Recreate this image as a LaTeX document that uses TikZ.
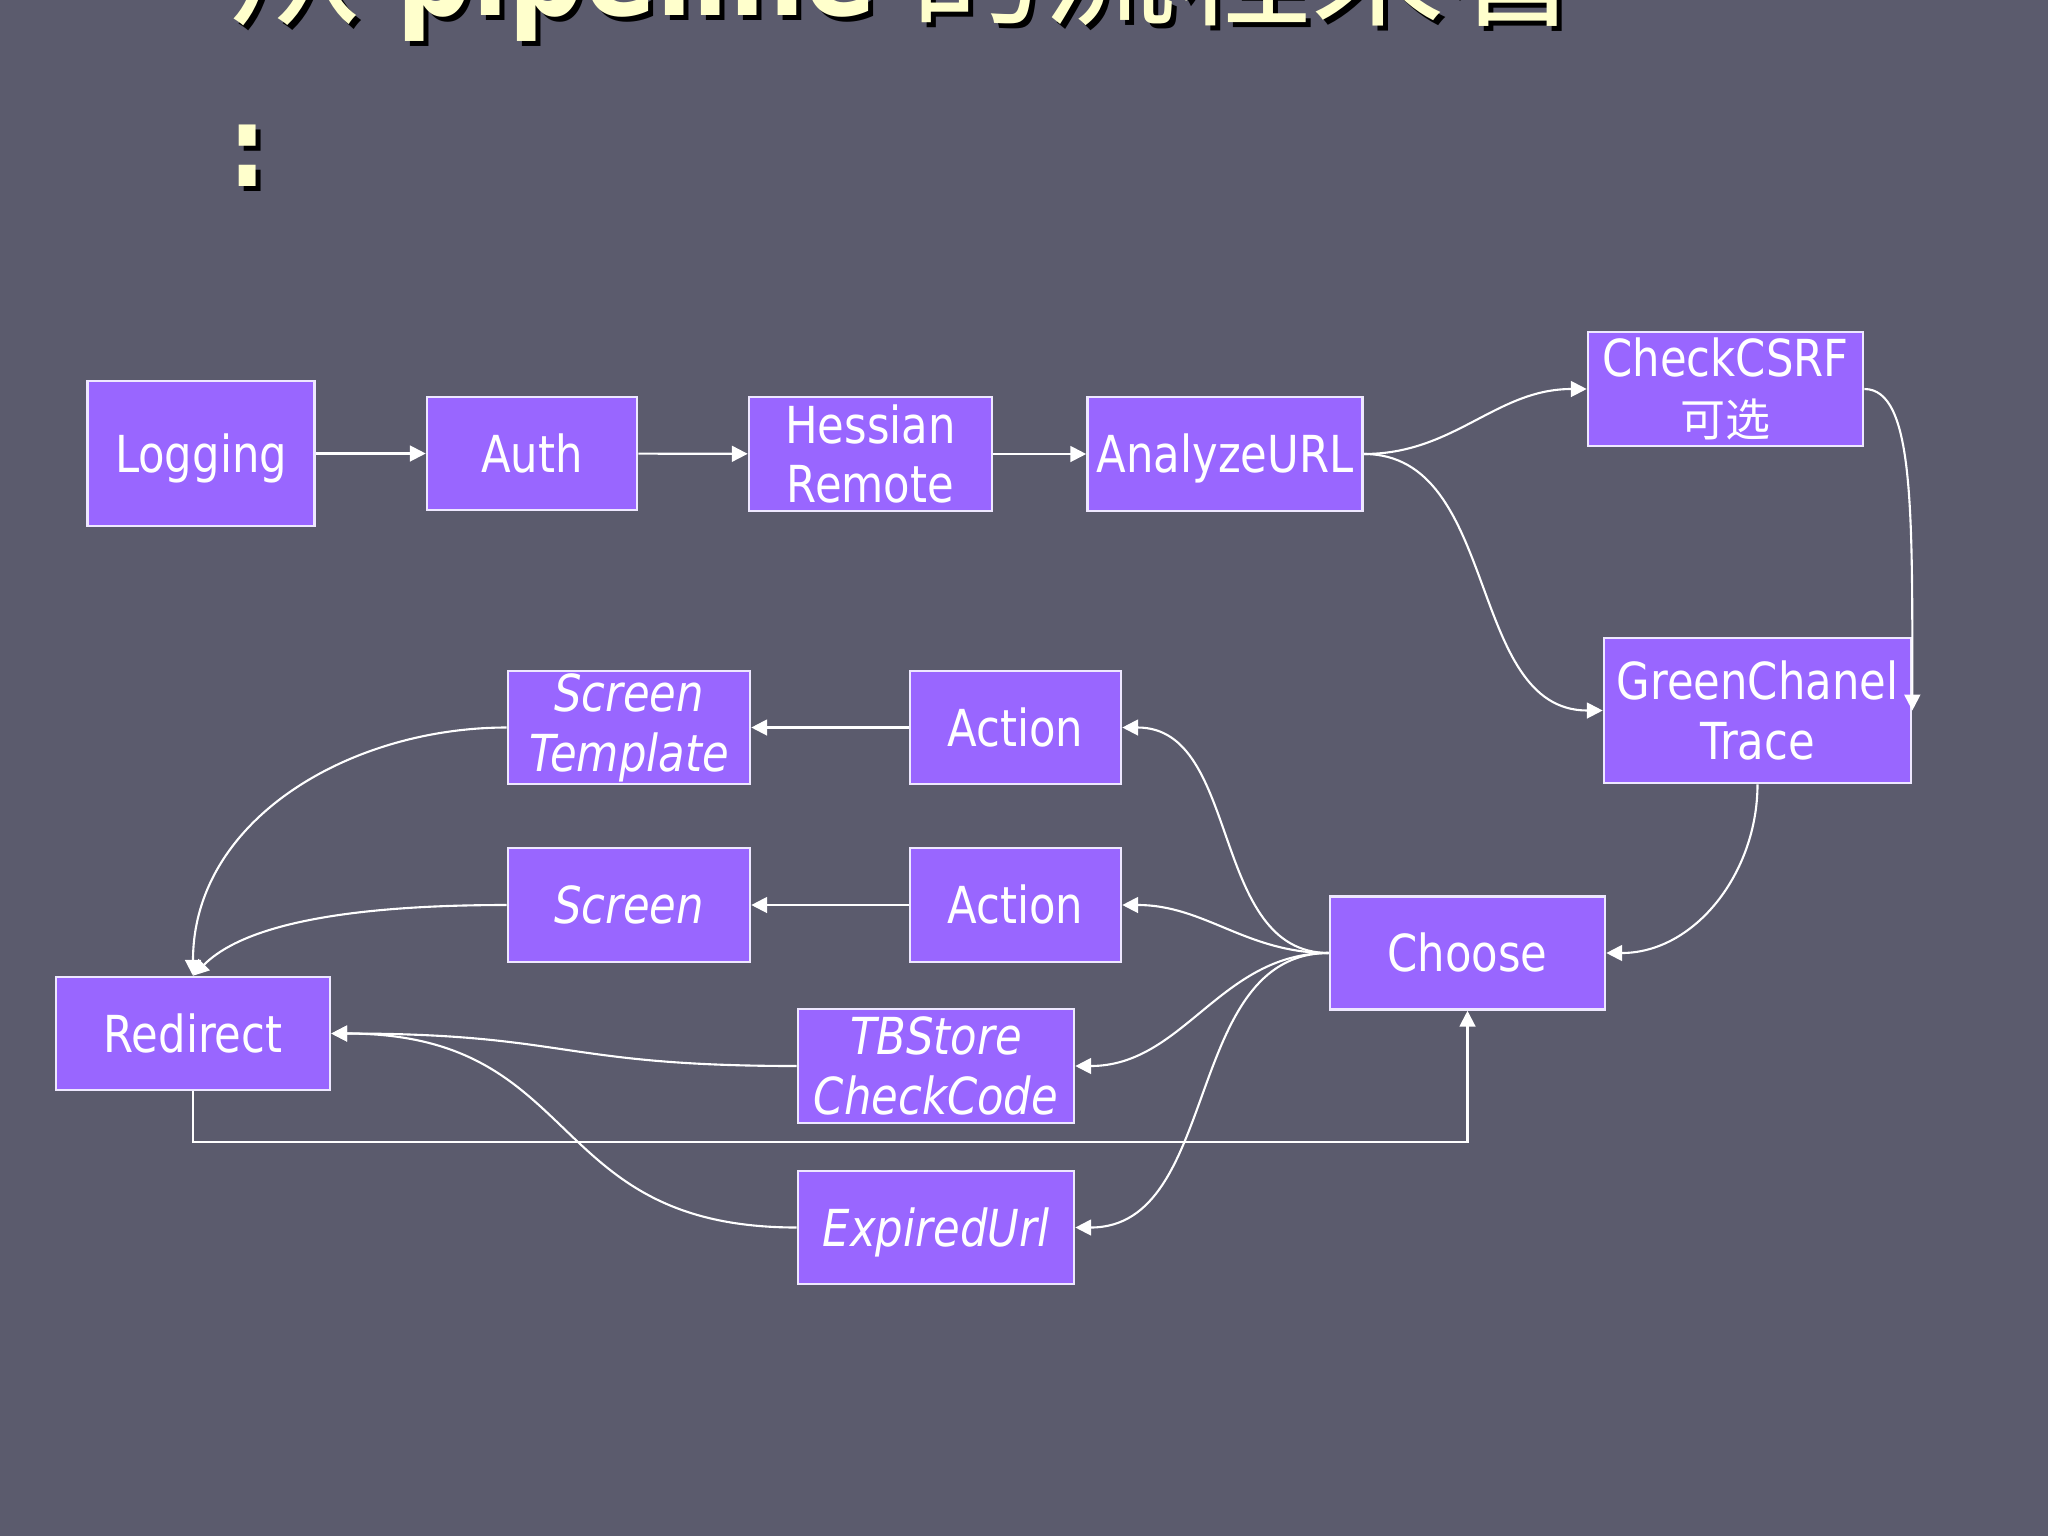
\documentclass[tikz,border=0pt]{standalone}
\usepackage{fontspec}
\setmainfont{DejaVu Sans}[FakeStretch=0.85]
\newfontfamily\cjk{Noto Sans CJK SC}
\usetikzlibrary{arrows.meta}
\definecolor{slidebg}{HTML}{5B5B6D}
\definecolor{boxfill}{HTML}{9966FF}
\definecolor{boxline}{HTML}{EEE8FF}
\definecolor{titleyellow}{HTML}{FFFFCC}
\tikzstyle{box} = [rectangle, draw=boxline, line width=0.7pt, fill=boxfill, text=white, inner sep=0pt, font=\fontsize{14.5pt}{17pt}\selectfont]
\tikzstyle{block} = [box, text height=0.37cm, text depth=0pt]
\tikzstyle{twoline} = [box, align=center]
\tikzstyle{titletext} = [inner sep=0pt, align=left, text=titleyellow, font=\fontsize{35.5pt}{48.6pt}\selectfont]
\tikzstyle{arrow} = [draw=white, line width=0.6pt, -{Triangle[length=4.5pt,width=4.5pt]}]
\newcommand{\slidetitle}{{\cjk\fontsize{38pt}{48.6pt}\selectfont 从} {\bfseries pipeline} {\cjk\fontsize{38pt}{48.6pt}\selectfont 的流程来看}\\{\bfseries\fontsize{32pt}{48.6pt}\selectfont :}}

\begin{document}
\begin{tikzpicture}[x=0.01cm, y=0.01cm]
    \path [use as bounding box, fill=slidebg] (0,0) rectangle (2048,-1536);
    \clip (0,0) rectangle (2048,-1536);

    % title, cut off at the top (base = baseline of its last line)
    \node (titleshadow) [titletext, text=black, anchor=base west] at (233,-191) {\slidetitle};
    \node (title) [titletext, anchor=base west] at (228,-186) {\slidetitle};

    % pipeline
    \node (logging) [block, minimum width=2.27cm, minimum height=1.45cm] at (201,-453.5) {Logging};
    \node (auth) [block, minimum width=2.10cm, minimum height=1.13cm] at (532,-453.5) {Auth};
    \node (hessian) [twoline, minimum width=2.43cm, minimum height=1.14cm] at (870.5,-454) {Hessian\\Remote};
    \node (analyze) [block, minimum width=2.75cm, minimum height=1.14cm] at (1225,-454) {AnalyzeURL};
    \node (csrf) [twoline, minimum width=2.75cm, minimum height=1.14cm] at (1725.5,-389) {CheckCSRF\\{\cjk\fontsize{12.8pt}{17pt}\selectfont 可选}};
    \node (green) [twoline, minimum width=3.07cm, minimum height=1.45cm] at (1757.5,-710.5) {GreenChanel\\Trace};
    \node (choose) [block, minimum width=2.75cm, minimum height=1.13cm] at (1467.5,-953) {Choose};
    \node (actionA) [block, minimum width=2.11cm, minimum height=1.13cm] at (1015.5,-727.5) {Action};
    \node (actionB) [block, minimum width=2.11cm, minimum height=1.14cm] at (1015.5,-905) {Action};
    \node (stemplate) [twoline, font=\fontsize{14.5pt}{17pt}\selectfont\itshape, minimum width=2.42cm, minimum height=1.13cm] at (629,-727.5) {Screen\\Template};
    \node (screen) [block, font=\fontsize{14.5pt}{17pt}\selectfont\itshape, minimum width=2.42cm, minimum height=1.14cm] at (629,-905) {Screen};
    \node (tbstore) [twoline, font=\fontsize{14.5pt}{17pt}\selectfont\itshape, minimum width=2.76cm, minimum height=1.14cm] at (936,-1066) {TBStore\\CheckCode};
    \node (expired) [block, font=\fontsize{14.5pt}{17pt}\selectfont\itshape, minimum width=2.76cm, minimum height=1.13cm] at (936,-1227.5) {ExpiredUrl};
    \node (redirect) [block, minimum width=2.74cm, minimum height=1.13cm] at (193,-1033.5) {Redirect};

    \draw [arrow] (logging) -- (auth);
    \draw [arrow] (auth) -- (hessian);
    \draw [arrow] (hessian) -- (analyze);
    \draw [arrow] (analyze.east) to[out=0,in=180] (csrf.west);
    \draw [arrow] (analyze.east) to[out=0,in=180] (green.west);
    \draw [arrow] (csrf.east) .. controls +(50,0) and +(0,200) .. (green.east);
    \draw [arrow] (green.south) to[out=-90,in=0] (choose.east);

    \draw [arrow] (choose.west) to[out=180,in=0] (actionA.east);
    \draw [arrow] (choose.west) to[out=180,in=0] (actionB.east);
    \draw [arrow] (choose.west) to[out=180,in=0] (tbstore.east);
    \draw [arrow] (choose.west) to[out=180,in=0] (expired.east);
    \draw [arrow] (actionA) -- (stemplate);
    \draw [arrow] (actionB) -- (screen);

    \draw [arrow] (stemplate.west) to[out=180,in=90] (redirect.north);
    \draw [arrow] (screen.west) .. controls +(-200,0) and +(40,40) .. (redirect.north);
    \draw [arrow] (tbstore.west) to[out=180,in=0,looseness=1.3] (redirect.east);
    \draw [arrow] (expired.west) to[out=180,in=0,looseness=1.3] (redirect.east);
    \draw [arrow] (redirect.south) -- ++(0,-51) -| (choose.south);
\end{tikzpicture}
\end{document}
